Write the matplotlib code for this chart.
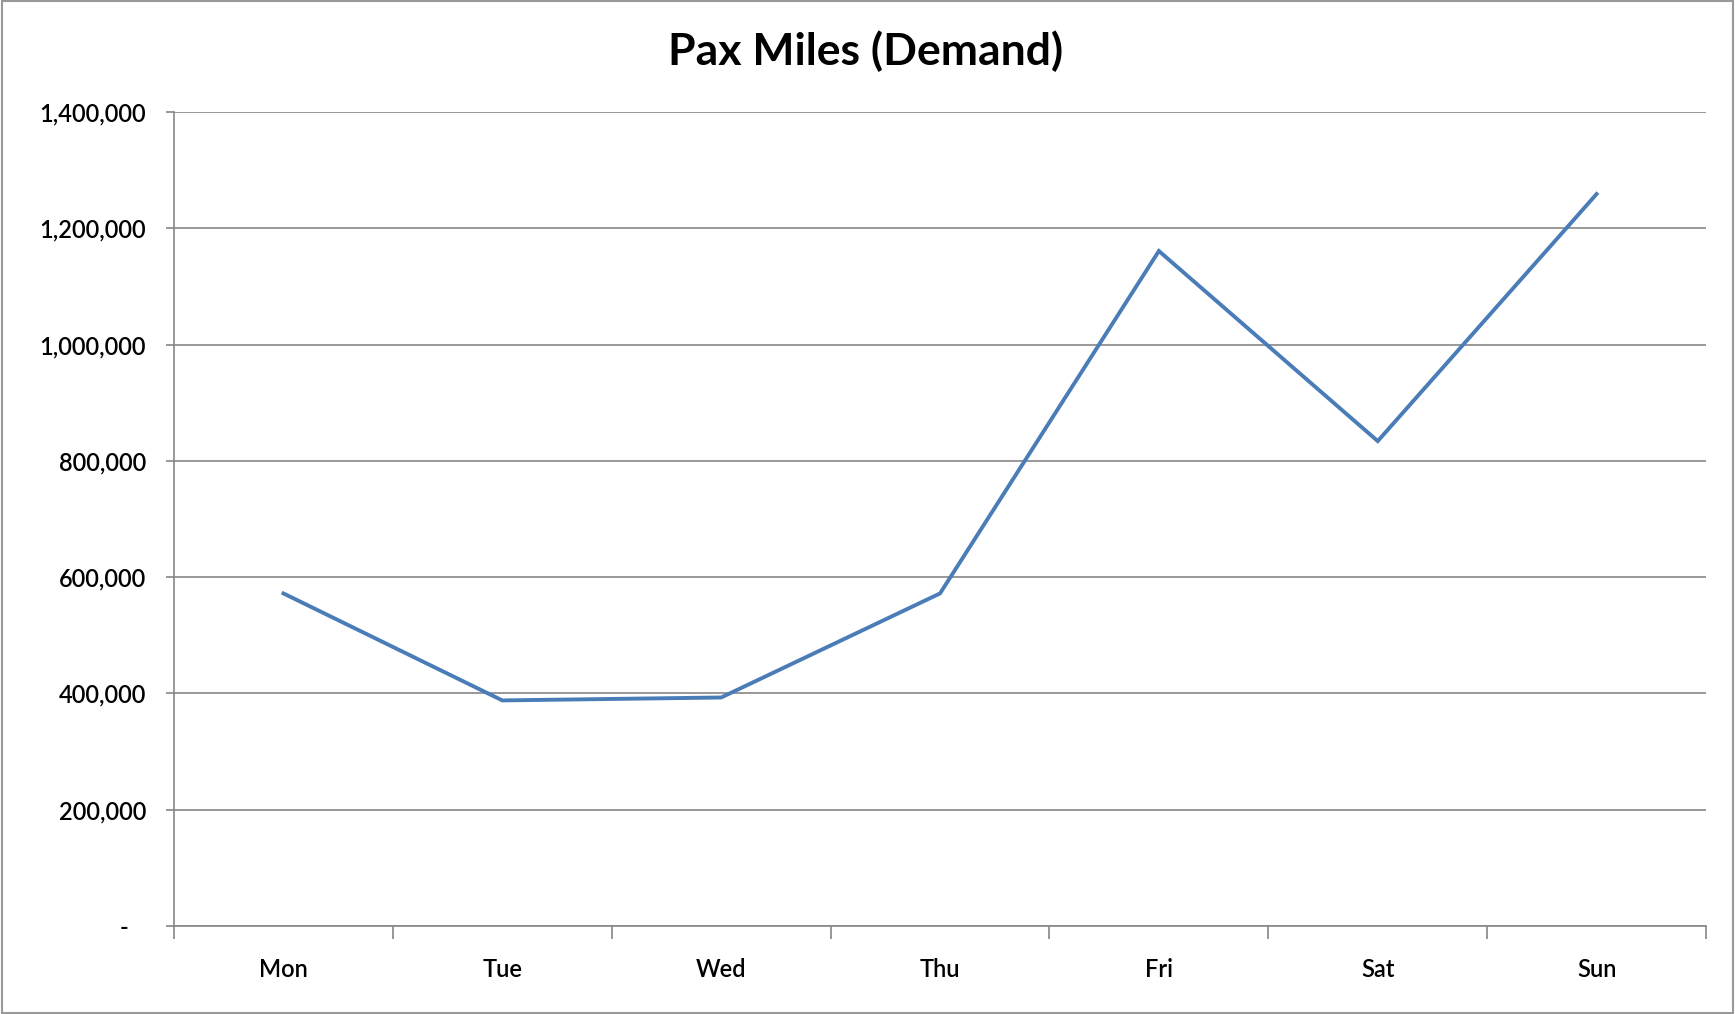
import matplotlib
matplotlib.use('Agg')
import matplotlib.pyplot as plt
from matplotlib.ticker import FuncFormatter, FixedLocator
from matplotlib.patches import Rectangle

# dados
dias = ['Mon', 'Tue', 'Wed', 'Thu', 'Fri', 'Sat', 'Sun']
pax_miles = [572000, 388000, 393000, 572000, 1161000, 834000, 1259000]
y_ticks = [0, 200000, 400000, 600000, 800000, 1000000, 1200000, 1400000]

plt.rcParams['font.family'] = ['Lato', 'DejaVu Sans']
cinza = '#868686'

fig = plt.figure(figsize=(17.35, 10.14), dpi=100)
ax = fig.add_axes([0.1003, 0.0868, 0.8830, 0.8027])

x = list(range(len(dias)))
ax.plot(x, pax_miles, color='#4A7CB8', linewidth=2.8, solid_joinstyle='miter')

ax.set_xlim(-0.5, len(dias) - 0.5)
ax.set_ylim(0, 1400000)
ax.set_yticks(y_ticks)


def fmt(v, pos):
    # formato contábil do Excel: zero vira traço
    if v == 0:
        return '-   '
    return f'{int(v):,}'


ax.yaxis.set_major_formatter(FuncFormatter(fmt))
ax.yaxis.grid(True, color=cinza, linewidth=1.2)
ax.set_axisbelow(True)

# rótulos no centro, marcas nos limites das categorias
ax.set_xticks(x)
ax.set_xticklabels(dias)
ax.xaxis.set_minor_locator(FixedLocator([i - 0.5 for i in range(len(dias) + 1)]))
ax.tick_params(axis='x', which='major', length=0, pad=23, labelsize=17)
ax.tick_params(axis='x', which='minor', length=9, width=1.2, color=cinza, direction='out')
ax.tick_params(axis='y', which='major', length=6, width=1.2, color=cinza, pad=14, labelsize=17)
for lbl in ax.get_xticklabels() + ax.get_yticklabels():
    lbl.set_fontweight('semibold')

for lado in ['top', 'right']:
    ax.spines[lado].set_visible(False)
for lado in ['left', 'bottom']:
    ax.spines[lado].set_color(cinza)
    ax.spines[lado].set_linewidth(1.2)

fig.text(0.499, 0.949, 'Pax Miles (Demand)', ha='center', va='center',
         fontsize=32, fontweight='bold')

# borda da figura
fig.patches.append(Rectangle((0.001, 0.001), 0.998, 0.998, transform=fig.transFigure,
                             fill=False, edgecolor='#999999', linewidth=1.5))

fig.savefig('out.png', dpi=100)
